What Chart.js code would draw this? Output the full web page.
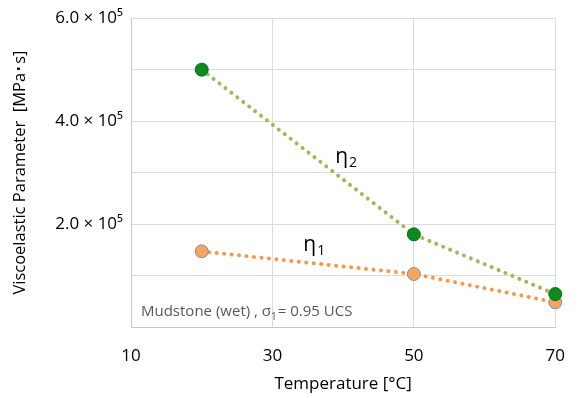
<!DOCTYPE html>
<html>
<head>
<meta charset="utf-8">
<script src="https://cdn.jsdelivr.net/npm/chart.js@4"></script>
<style>
  body { margin: 0; background: #fff; }
  #wrap { width: 584px; height: 398px; }
</style>
</head>
<body>
<div id="wrap"><canvas id="viscoChart"></canvas></div>
<script>
const temperatures = [20, 50, 70];
const eta2 = [5.0e5, 1.8e5, 0.64e5];
const eta1 = [1.47e5, 1.03e5, 0.48e5];
const xTicks = [10, 30, 50, 70];
const yTickLabels = { 200000: "2.0 × 10⁵", 400000: "4.0 × 10⁵", 600000: "6.0 × 10⁵" };

// labels drawn at data coordinates
const notes = [
  { text: "η", sub: "2", x: 40, y: 3.3e5 },
  { text: "η", sub: "1", x: 35.5, y: 1.6e5 },
];

const toPoints = (vals) => temperatures.map((t, i) => ({ x: t, y: vals[i] }));

const labelPlugin = {
  id: "labels",
  afterDatasetsDraw(chart) {
    const { ctx, scales } = chart;
    ctx.save();
    ctx.fillStyle = "#000";
    ctx.textBaseline = "middle";
    notes.forEach((n) => {
      const px = scales.x.getPixelForValue(n.x);
      const py = scales.y.getPixelForValue(n.y);
      ctx.font = "21px 'Open Sans'";
      ctx.textAlign = "left";
      ctx.fillText(n.text, px - 8, py);
      const w = ctx.measureText(n.text).width;
      ctx.font = "14px 'Open Sans'";
      ctx.fillText(n.sub, px - 8 + w + 1, py + 6);
    });
    // sample note, bottom left of plot
    const left = chart.chartArea.left + 10;
    const base = chart.chartArea.bottom - 15;
    ctx.fillStyle = "#595959";
    ctx.font = "15px 'Open Sans'";
    let s = "Mudstone (wet) , σ";
    ctx.fillText(s, left, base);
    let x = left + ctx.measureText(s).width;
    ctx.font = "10px 'Open Sans'";
    ctx.fillText("1", x, base + 5);
    x += ctx.measureText("1").width + 1;
    ctx.font = "15px 'Open Sans'";
    ctx.fillText("= 0.95 UCS", x, base);
    ctx.restore();
  },
};

new Chart(document.getElementById("viscoChart"), {
  type: "line",
  data: {
    datasets: [
      {
        label: "eta2",
        data: toPoints(eta2),
        borderColor: "#9bbb59",
        borderWidth: 4,
        borderDash: [0.01, 7.5],
        borderCapStyle: "round",
        pointRadius: 6.5,
        pointBackgroundColor: "#0e8a1e",
        pointBorderColor: "#0b6e18",
        pointBorderWidth: 1,
        tension: 0,
        clip: false,
      },
      {
        label: "eta1",
        data: toPoints(eta1),
        borderColor: "#f79646",
        borderWidth: 4,
        borderDash: [0.01, 7.5],
        borderCapStyle: "round",
        pointRadius: 6.5,
        pointBackgroundColor: "#f7a55a",
        pointBorderColor: "#7d8fae",
        pointBorderWidth: 1,
        tension: 0,
        clip: false,
      },
    ],
  },
  options: {
    responsive: true,
    maintainAspectRatio: false,
    animation: false,
    layout: { padding: { top: 13, right: 23, left: 0, bottom: 0 } },
    plugins: { legend: { display: false }, tooltip: { enabled: false } },
    scales: {
      x: {
        type: "linear",
        min: 10,
        max: 70,
        afterBuildTicks: (s) => { s.ticks = xTicks.map((v) => ({ value: v })); },
        grid: { color: "#dcdcdc", drawTicks: false },
        border: { color: "#c8c8c8" },
        ticks: { padding: 19, color: "#000", font: { family: "Open Sans", size: 17 } },
        title: {
          display: true,
          text: "Temperature [°C]",
          color: "#000",
          font: { family: "Open Sans", size: 17 },
          padding: { top: 0 },
        },
        afterFit: (s) => { s.height = 71; },
      },
      y: {
        min: 0,
        max: 6e5,
        grid: { color: "#dcdcdc", drawTicks: false },
        border: { color: "#c8c8c8" },
        ticks: {
          stepSize: 1e5,
          padding: 8,
          color: "#000",
          font: { family: "Open Sans", size: 17 },
          callback: (v) => yTickLabels[v] || "",
        },
        title: {
          display: true,
          text: "Viscoelastic Parameter  [MPa･s]",
          color: "#000",
          font: { family: "Open Sans", size: 16.5 },
          padding: { top: 10, bottom: 0 },
        },
        afterFit: (s) => { s.width = 131; },
      },
    },
  },
  plugins: [labelPlugin],
});
</script>
</body>
</html>
